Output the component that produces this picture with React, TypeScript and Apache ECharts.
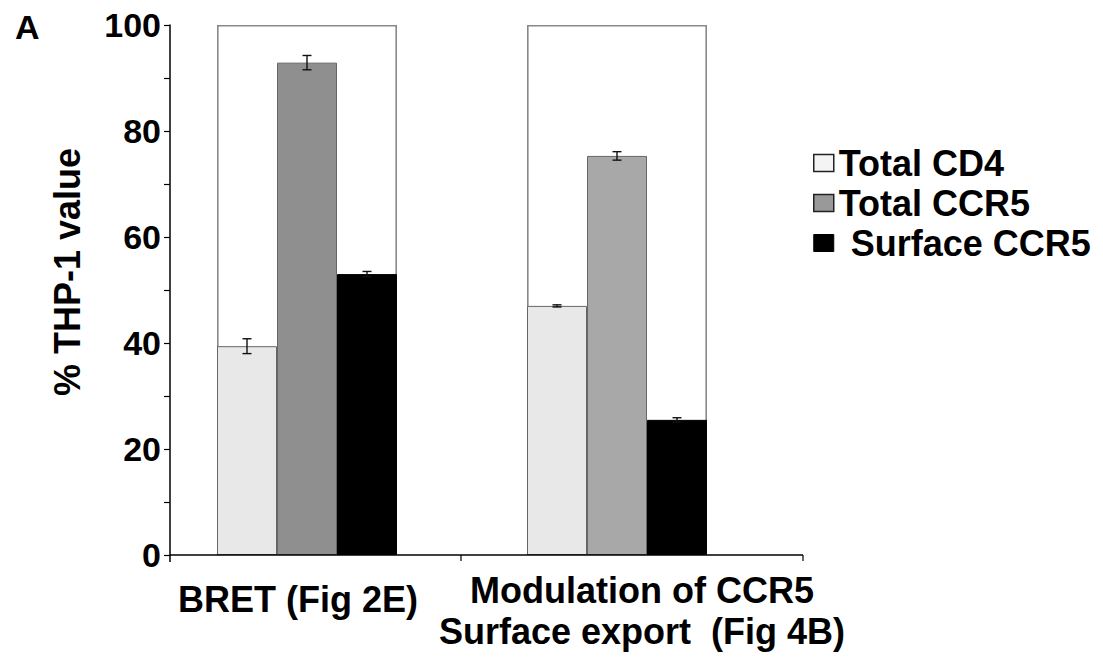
import React, { useEffect, useRef } from "react";
import * as echarts from "echarts";

const categories = ["BRET (Fig 2E)", "Modulation of CCR5\nSurface export  (Fig 4B)"];
const seriesNames = ["Total CD4", "Total CCR5", "Surface CCR5"];
const totalCD4 = [39.4, 47.0];
const totalCCR5 = [92.9, 75.3];
const surfaceCCR5 = [53.0, 25.5];
const errCD4 = [1.4, 0.2];
const errCCR5 = [1.35, 0.8];
const errSurface = [0.5, 0.4];
const referenceBox = [100, 100];
const yTicks = [0, 20, 40, 60, 80, 100];

const FONT = "'Liberation Sans', Arial, Helvetica, sans-serif";
const BAR_W = 60;

export default function App() {
  const ref = useRef<HTMLDivElement>(null);
  useEffect(() => {
    if (!ref.current) return;
    const chart = echarts.init(ref.current, undefined, { renderer: "svg" });

    const valuesBySeries = [totalCD4, totalCCR5, surfaceCCR5];
    const errsBySeries = [errCD4, errCCR5, errSurface];
    const errData: number[][] = [];
    valuesBySeries.forEach((vals, s) =>
      vals.forEach((v, c) => errData.push([c, v, errsBySeries[s][c], s]))
    );

    const cd4Colors = ["#e8e8e8", "#e8e8e8"];
    const ccr5Colors = ["#8f8f8f", "#a8a8a8"];
    const surfColors = ["#000000", "#000000"];
    const colorSets = [cd4Colors, ccr5Colors, surfColors];

    const barSeries = valuesBySeries.map((vals, s) => ({
      type: "bar",
      name: seriesNames[s],
      xAxisIndex: 0,
      barWidth: BAR_W,
      barGap: "0%",
      z: 3,
      itemStyle: { color: colorSets[s][0], borderColor: "#666", borderWidth: 1 },
      data: vals.map((v, c) => ({
        value: v,
        itemStyle: { color: colorSets[s][c], borderColor: s === 2 ? "#000" : "#666" },
      })),
    }));

    const option: any = {
      animation: false,
      backgroundColor: "#ffffff",
      textStyle: { fontFamily: FONT },
      title: {
        text: "A",
        left: 10,
        top: 5,
        textStyle: { fontSize: 34, fontWeight: "bold", color: "#000", fontFamily: FONT },
      },
      grid: { left: 152, right: 331, top: 25, bottom: 107, containLabel: false },
      legend: {
        orient: "vertical",
        left: 808,
        top: 138,
        itemWidth: 20,
        itemHeight: 17,
        itemGap: 0,
        selectedMode: false,
        textStyle: { fontSize: 36, fontWeight: "bold", color: "#000", fontFamily: FONT, lineHeight: 40 },
        data: [
          { name: "Total CD4", icon: "rect", itemStyle: { color: "#f4f4f4", borderColor: "#222", borderWidth: 1.5 } },
          { name: "Total CCR5", icon: "rect", itemStyle: { color: "#999999", borderColor: "#222", borderWidth: 1.5 } },
          { name: "Surface CCR5", icon: "rect", itemStyle: { color: "#000000", borderColor: "#000", borderWidth: 1 }, textStyle: { padding: [0, 0, 0, 12] } },
        ],
      },
      xAxis: [
        {
          type: "category",
          data: [
            { value: categories[0], textStyle: { padding: [9, 18, 0, 0] } },
            { value: categories[1], textStyle: { padding: [0, 0, 0, 50] } },
          ],
          axisLine: { show: false },
          axisTick: { show: false },
          axisLabel: {
            interval: 0,
            margin: 15,
            fontSize: 36,
            fontWeight: "bold",
            color: "#000",
            fontFamily: FONT,
            lineHeight: 41,
            verticalAlign: "top",
          },
        },
        {
          type: "category",
          data: categories,
          show: false,
        },
      ],
      yAxis: {
        type: "value",
        min: 0,
        max: 100,
        interval: 20,
        offset: -18,
        name: "% THP-1 value",
        nameLocation: "middle",
        nameGap: 85,
        nameTextStyle: { fontSize: 36, fontWeight: "bold", color: "#000", fontFamily: FONT, padding: [0, 0, 0, 36] },
        axisLine: { show: true, lineStyle: { color: "#000", width: 1.5 } },
        axisTick: { show: true, length: 6, lineStyle: { color: "#000", width: 1.2 } },
        minorTick: { show: true, splitNumber: 2, length: 6, lineStyle: { color: "#000", width: 1.2 } },
        splitLine: { show: false },
        axisLabel: {
          margin: 9,
          fontSize: 34,
          fontWeight: "bold",
          color: "#000",
          fontFamily: FONT,
          formatter: (v: number) => (yTicks.includes(v) ? String(v) : ""),
        },
      },
      series: [
        {
          type: "bar",
          name: "box",
          xAxisIndex: 1,
          barWidth: BAR_W * 3,
          z: 1,
          silent: true,
          itemStyle: { color: "#ffffff", borderColor: "#888", borderWidth: 1.6 },
          data: referenceBox,
        },
        ...barSeries,
        {
          type: "custom",
          name: "errors",
          xAxisIndex: 0,
          z: 5,
          silent: true,
          data: errData,
          renderItem: (params: any, api: any) => {
            const c = api.value(0);
            const v = api.value(1);
            const e = api.value(2);
            const s = api.value(3);
            const x = api.coord([c, v])[0] + (s - 1) * BAR_W;
            const yT = api.coord([c, v + e])[1];
            const yB = api.coord([c, v - e])[1];
            const half = 4.5;
            const st = { stroke: "#111", lineWidth: 1.4 };
            return {
              type: "group",
              children: [
                { type: "line", shape: { x1: x, y1: yT, x2: x, y2: yB }, style: st },
                { type: "line", shape: { x1: x - half, y1: yT, x2: x + half, y2: yT }, style: st },
                { type: "line", shape: { x1: x - half, y1: yB, x2: x + half, y2: yB }, style: st },
              ],
            };
          },
        },
      ],
      graphic: [
        { type: "line", shape: { x1: 170, y1: 555, x2: 803, y2: 555 }, style: { stroke: "#000", lineWidth: 1.5 }, z: 10 },
        { type: "line", shape: { x1: 170, y1: 555, x2: 170, y2: 562 }, style: { stroke: "#000", lineWidth: 1.5 }, z: 10 },
        { type: "line", shape: { x1: 461, y1: 555, x2: 461, y2: 561 }, style: { stroke: "#000", lineWidth: 1.2 }, z: 10 },
        { type: "line", shape: { x1: 803, y1: 555, x2: 803, y2: 561 }, style: { stroke: "#000", lineWidth: 1.2 }, z: 10 },
      ],
    };
    chart.setOption(option);
    return () => chart.dispose();
  }, []);

  return (
    <div
      ref={ref}
      style={{ position: "fixed", left: 0, top: 0, width: 1103, height: 662, background: "#fff" }}
    />
  );
}
